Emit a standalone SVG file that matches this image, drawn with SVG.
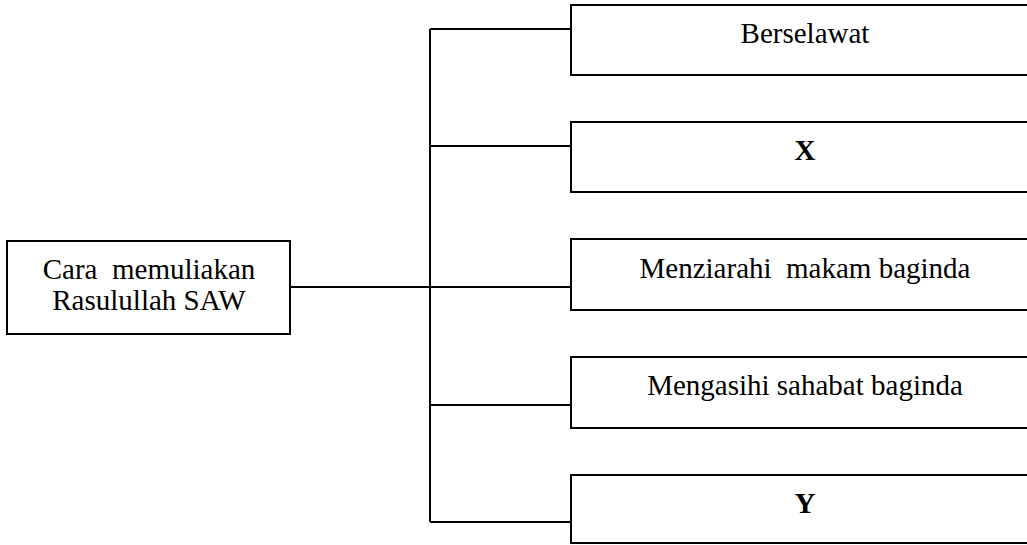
<svg xmlns="http://www.w3.org/2000/svg" width="1027" height="545" viewBox="0 0 1027 545">
<style>
.box{fill:#fff;stroke:#000;stroke-width:2}
.ln{stroke:#000;stroke-width:2;fill:none}
text{font-family:"Liberation Serif","Times New Roman",serif;font-size:29px;fill:#000;text-anchor:middle}
.b{font-weight:bold}
</style>
<rect width="1027" height="545" fill="#fff"/>
<g id="connectors">
<line class="ln" x1="290" y1="287" x2="430" y2="287"/>
<line class="ln" x1="430" y1="29" x2="430" y2="522"/>
<line class="ln" x1="430" y1="29" x2="571" y2="29"/>
<line class="ln" x1="430" y1="146" x2="571" y2="146"/>
<line class="ln" x1="430" y1="287" x2="571" y2="287"/>
<line class="ln" x1="430" y1="405" x2="571" y2="405"/>
<line class="ln" x1="430" y1="522" x2="571" y2="522"/>
</g>
<g id="root">
<rect class="box" x="7" y="241" width="283" height="93"/>
<text x="149" y="279" xml:space="preserve">Cara  memuliakan</text>
<text x="149" y="310">Rasulullah SAW</text>
</g>
<g id="n1">
<rect class="box" x="571" y="5" width="470" height="70"/>
<text x="805" y="43">Berselawat</text>
</g>
<g id="n2">
<rect class="box" x="571" y="122" width="470" height="70"/>
<text class="b" x="805" y="160">X</text>
</g>
<g id="n3">
<rect class="box" x="571" y="239" width="470" height="71"/>
<text x="805" y="278" xml:space="preserve">Menziarahi  makam baginda</text>
</g>
<g id="n4">
<rect class="box" x="571" y="357" width="470" height="71"/>
<text x="805" y="395">Mengasihi sahabat baginda</text>
</g>
<g id="n5">
<rect class="box" x="571" y="475" width="470" height="68"/>
<text class="b" x="805" y="513">Y</text>
</g>
</svg>
